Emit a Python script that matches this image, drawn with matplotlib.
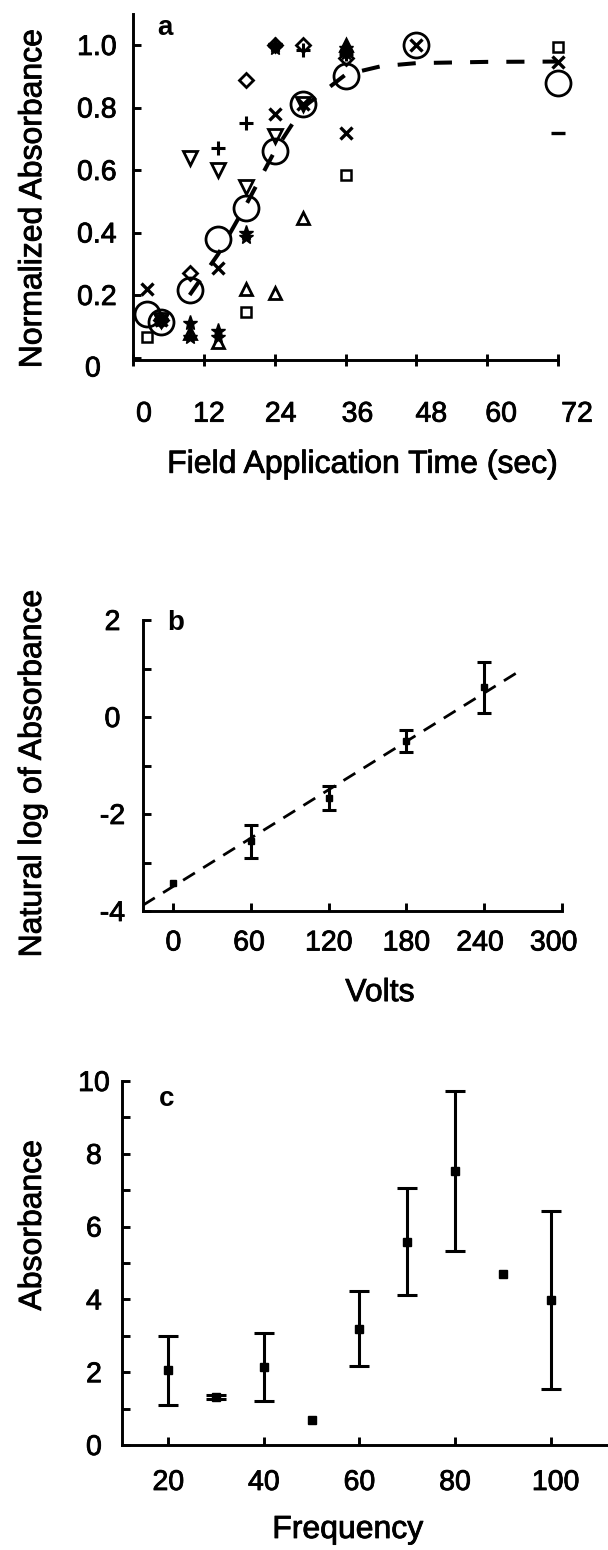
import numpy as np
import matplotlib
matplotlib.use("Agg")
import matplotlib.pyplot as plt
import matplotlib.transforms as mtransforms
import matplotlib.patheffects as pe

plt.rcParams['font.family'] = ['Liberation Sans', 'DejaVu Sans']

nan = np.nan
# ---------------- Panel a data ----------------
times = [2.4, 4.8, 9.6, 14.4, 19.2, 24, 28.8, 36, 48, 72]
mean_abs = [0.14, 0.115, 0.216, 0.38, 0.477, 0.66, 0.81, 0.90, 1.00, 0.88]
run_cross = [0.22, 0.12, nan, 0.285, nan, 0.78, 0.81, 0.72, 1.00, 0.947]
run_square = [0.067, nan, nan, nan, 0.147, nan, nan, 0.584, nan, 0.995]
run_diamond = [nan, 0.12, 0.27, nan, 0.888, 1.0, 1.0, 0.96, nan, nan]
run_tridown = [nan, 0.12, 0.64, 0.60, 0.547, 0.71, 0.81, nan, nan, nan]
run_plus = [nan, nan, nan, 0.67, 0.75, 1.0, 0.985, 0.97, nan, nan]
run_triup = [nan, nan, 0.08, 0.05, 0.22, 0.205, 0.445, 1.0, nan, nan]
run_star1 = [nan, 0.12, 0.11, 0.085, 0.40, 1.0, nan, 0.99, nan, nan]
run_star2 = [nan, nan, 0.065, 0.065, 0.385, 0.99, nan, 0.975, nan, nan]
run_dash = [nan, nan, nan, nan, nan, nan, nan, nan, nan, 0.717]
fit_times = [9.6, 14.4, 19.2, 24, 28.8, 36, 42, 48, 60, 72]
fit_abs = [0.20, 0.33, 0.49, 0.66, 0.80, 0.905, 0.932, 0.942, 0.946, 0.947]
a_xticks = [0, 12, 24, 36, 48, 60, 72]
a_yticks = [0, 0.2, 0.4, 0.6, 0.8, 1.0]
a_yticklabels = ['0', '0.2', '0.4', '0.6', '0.8', '1.0']

# ---------------- Panel b data ----------------
volts = [0, 60, 120, 180, 240]
ln_abs = [-3.43, -2.565, -1.67, -0.495, 0.61]
ln_err = [0.0, 0.345, 0.24, 0.225, 0.53]
fit_volts = [-23.5, 270]
fit_ln = [-3.88, 0.99]
b_xticks = [0, 60, 120, 180, 240, 300]
b_yticks = [-4, -3, -2, -1, 0, 1, 2]
b_yticklabels = ['-4', '', '-2', '', '0', '', '2']

# ---------------- Panel c data ----------------
freq = [20, 30, 40, 50, 60, 70, 80, 90, 100]
absorb = [2.055, 1.32, 2.14, 0.68, 3.2, 5.59, 7.525, 4.70, 3.975]
abs_err = [0.945, 0.05, 0.94, 0.0, 1.03, 1.46, 2.205, 0.0, 2.445]
c_xticks = [20, 40, 60, 80, 100]
c_yticks = list(range(0, 11))
c_yticklabels = [str(v) if v % 2 == 0 else '' for v in c_yticks]

W, H = 608, 1550
fig = plt.figure(figsize=(W / 100, H / 100), dpi=100)

def px_axes(left, top, right, bottom):
    return fig.add_axes([left / W, 1 - bottom / H, (right - left) / W, (bottom - top) / H])

TICK_FS = 20.5
LAB_FS = 23
LW = 2.1
THICK = [pe.withStroke(linewidth=0.6, foreground='black')]

def style(ax):
    for s in ['top', 'right']:
        ax.spines[s].set_visible(False)
    for s in ['left', 'bottom']:
        ax.spines[s].set_linewidth(LW)
    ax.tick_params(width=LW, labelsize=TICK_FS)

def thicken(ax):
    for t in ax.get_xticklabels() + ax.get_yticklabels():
        t.set_path_effects(THICK)
    ax.xaxis.label.set_path_effects(THICK)
    ax.yaxis.label.set_path_effects(THICK)

def shift_labels(labels, dxs, dys):
    for t, dx, dy in zip(labels, dxs, dys):
        off = mtransforms.ScaledTranslation(dx / 100, -dy / 100, fig.dpi_scale_trans)
        t.set_transform(t.get_transform() + off)

# ---------------- Panel a ----------------
ax = px_axes(133, 13.75, 558, 360)
style(ax)
ax.set_xlim(0, 72)
ax.set_ylim(-0.008, 1.1)
ax.plot(fit_times, fit_abs, color='black', lw=2.9, dashes=(4.5, 4.5), zorder=2)
mk = dict(color='black', ls='none', clip_on=False, zorder=3)
ax.plot(times, mean_abs, marker='o', ms=18, mfc='none', mew=2.0, **mk)
ax.plot(times, run_cross, marker='x', ms=8, mew=2.4, **mk)
ax.plot(times, run_square, marker='s', ms=7, mfc='none', mew=1.8, **mk)
ax.plot(times, run_diamond, marker='D', ms=7, mfc='none', mew=2.0, **mk)
ax.plot(times, run_tridown, marker='v', ms=10, mfc='none', mew=2.0, **mk)
ax.plot(times, run_plus, marker='+', ms=10, mew=2.2, **mk)
ax.plot(times, run_triup, marker='^', ms=9, mfc='none', mew=2.0, **mk)
ax.plot(times, run_star1, marker='*', ms=11, **mk)
ax.plot(times, run_star2, marker='*', ms=11, **mk)
ax.plot(times, run_dash, marker='_', ms=10, mew=2.4, **mk)
ax.set_xticks(a_xticks)
ax.set_yticks(a_yticks)
ax.set_yticklabels(a_yticklabels)
ax.tick_params(axis='x', direction='inout', length=8, pad=26)
ax.tick_params(axis='y', direction='in', length=6, pad=26)
for t in ax.get_yticklabels():
    t.set_horizontalalignment('center')
shift_labels(ax.get_xticklabels(), [11, 5, 6, 12, 15, 14, 19], [0] * 7)
shift_labels(ax.get_yticklabels(), [-4, 0, 0, 0, 0, 0], [9, 0, 0, 0, 0, 0])
ax.set_xlabel('Field Application Time (sec)', fontsize=LAB_FS)
ax.set_ylabel('Normalized Absorbance', fontsize=LAB_FS)
ax.xaxis.label.set_va('center')
ax.yaxis.label.set_va('center')
ax.xaxis.set_label_coords(0.541, -0.3026)
ax.yaxis.set_label_coords(-0.235, 0.467)
ax.text(0.056, 0.96, 'a', transform=ax.transAxes, fontsize=20, fontweight='bold', va='center')
thicken(ax)

# ---------------- Panel b ----------------
ax = px_axes(143, 620, 561.7, 911)
style(ax)
ax.set_xlim(-23.5, 300)
ax.set_ylim(-4, 2)
ax.plot(fit_volts, fit_ln, color='black', lw=2.0, dashes=(5, 3.5), zorder=2)
ax.plot(volts, ln_abs, marker='s', ms=4.5, color='black', ls='none', zorder=3)
eb_x = [v for v, e in zip(volts, ln_err) if e > 0]
eb_y = [v for v, e in zip(ln_abs, ln_err) if e > 0]
eb_e = [e for e in ln_err if e > 0]
ax.errorbar(eb_x, eb_y, yerr=eb_e, fmt='none', ecolor='black', elinewidth=2.2,
            capsize=4.7, capthick=2.2, zorder=3)
ax.set_xticks(b_xticks)
ax.set_yticks(b_yticks)
ax.set_yticklabels(b_yticklabels)
ax.tick_params(axis='x', direction='in', length=6, pad=14)
ax.tick_params(axis='y', direction='in', length=6, pad=22)
for t in ax.get_yticklabels():
    t.set_horizontalalignment('center')
shift_labels(ax.get_xticklabels(), [0, -2, 0, 0, -4, -8], [0] * 6)
ax.set_xlabel('Volts', fontsize=LAB_FS)
ax.set_ylabel('Natural log of Absorbance', fontsize=LAB_FS)
ax.xaxis.label.set_va('center')
ax.yaxis.label.set_va('center')
ax.xaxis.set_label_coords(0.566, -0.282)
ax.yaxis.set_label_coords(-0.263, 0.474)
ax.text(0.058, 0.99, 'b', transform=ax.transAxes, fontsize=20, fontweight='bold', va='center')
thicken(ax)

# ---------------- Panel c ----------------
ax = px_axes(121.7, 1081, 607, 1445)
style(ax)
ax.set_xlim(10.25, 111.8)
ax.set_ylim(0, 10)
ax.plot(freq, absorb, marker='s', ms=5.5, color='black', ls='none', zorder=3)
eb_x = [v for v, e in zip(freq, abs_err) if e > 0]
eb_y = [v for v, e in zip(absorb, abs_err) if e > 0]
eb_e = [e for e in abs_err if e > 0]
ax.errorbar(eb_x, eb_y, yerr=eb_e, fmt='none', ecolor='black', elinewidth=2.2,
            capsize=7, capthick=2.2, zorder=3)
ax.set_xticks(c_xticks)
ax.set_yticks(c_yticks)
ax.set_yticklabels(c_yticklabels)
ax.tick_params(axis='x', direction='in', length=6, pad=18)
ax.tick_params(axis='y', direction='in', length=6, pad=20)
for t in ax.get_yticklabels():
    t.set_horizontalalignment('center')
shift_labels(ax.get_xticklabels(), [0, 0, 0, 0, 5], [0] * 5)
ax.set_xlabel('Frequency', fontsize=LAB_FS)
ax.set_ylabel('Absorbance', fontsize=LAB_FS)
ax.xaxis.label.set_va('center')
ax.yaxis.label.set_va('center')
ax.xaxis.set_label_coords(0.466, -0.2335)
ax.yaxis.set_label_coords(-0.183, 0.604)
ax.text(0.076, 0.95, 'c', transform=ax.transAxes, fontsize=20, fontweight='bold', va='center')
thicken(ax)

fig.savefig('out.png', dpi=100, facecolor='white')
